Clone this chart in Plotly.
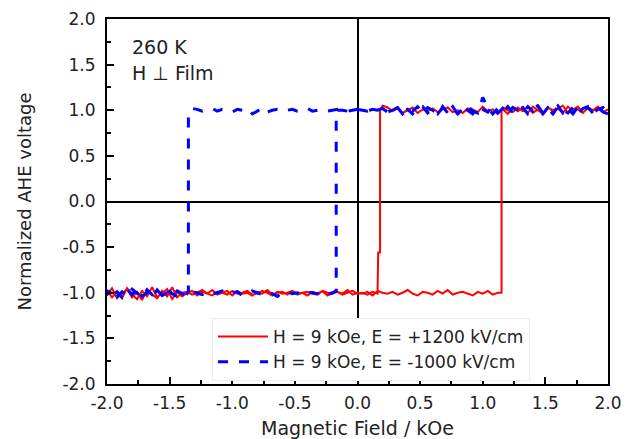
import numpy as np
import plotly.graph_objects as go

# ---------------- data ----------------
# magnetic field sweep grid (kOe), 101 points from -2.0 to 2.0
FIELD = np.round(np.arange(101) * 0.04 - 2.0, 2)

# E = +1200 kV/cm, normalized AHE voltage, listed in ascending-field order
red_up = [
    -0.97, -1.05, -0.99, -1.06, -0.95, -1.02, -1.07, -0.98, -1.04, -0.94, -1.05, -1.01, -0.96, -1.07, -0.99, -1.04,
    -1.00, -0.98, -1.03, -0.99, -1.01, -0.97, -1.02, -1.00, -0.98, -1.03,
    -0.98, -1.01, -1.00, -1.03, -0.99, -1.01, -0.97, -1.02, -1.00, -0.99,
    -1.02, -0.98, -1.01, -1.00, -1.03, -0.99, -1.01, -0.98, -1.03, -1.00,
    -0.99, -1.01, -0.97, -1.02, -1.00, -1.01, -0.99, -1.03, -0.98, -1.00,
    -1.01, -0.99, -1.02, -1.00, -0.97, -1.01, -1.03, -0.99, -1.00, -1.02,
    -0.98, -1.01, -0.97, -1.02, -1.00, -0.99, -1.01, -1.03, -0.99, -1.01,
    -0.98, -1.02, -1.00,
    1.01, 0.96, 1.03, 0.99, 1.03, 0.97, 1.04, 1.00, 0.96, 1.03, 0.99, 1.02, 1.05, 0.97, 1.01, 1.04,
    0.97, 1.03, 1.00, 1.04, 0.98, 1.01,
]
red_down = [
    -1.03, -0.95, -1.06, -1.01, -0.96, -1.05, -0.99, -1.08, -0.96, -1.02, -1.06, -0.98, -1.04, -0.94, -1.05, -1.00,
    -0.99, -1.02, -1.00, -0.97, -1.01, -1.03, -0.99, -1.00, -1.02, -0.98,
    -1.01, -1.00, -0.98, -1.02, -1.01, -0.98, -1.00, -1.03, -0.99, -1.01,
    -1.00, -0.98, -1.02, -1.00, -0.99, -1.01, -1.02, -0.98, -1.00, -1.01,
    -0.99, -1.02, -1.00, -0.98, -1.01, -1.00, -1.02, -0.99, -1.01,
    1.05, 1.03, 0.99, 1.02, 0.97, 1.00, 1.03, 0.97, 1.01, 0.99,
    1.02, 0.98, 1.01, 1.03, 0.98, 1.00, 0.97, 1.02, 1.01, 0.98,
    1.04, 0.99, 1.01, 0.96, 1.03, 1.00, 0.98, 1.03, 0.99, 1.04,
    0.97, 1.01, 0.96, 1.03, 1.00, 1.02, 0.97, 1.04, 0.99, 1.01,
    0.97, 1.03, 1.00, 1.02, 0.98, 1.01,
]
red_down_switch_x = [0.18, 0.18, 0.165, 0.165]
red_down_switch_y = [1.00, -0.56, -0.56, -1.00]
red_up_switch_x = [1.15, 1.15]
red_up_switch_y = [-1.00, 1.00]

# E = -1000 kV/cm
blue_down = [
    -0.97, -1.03, -0.99, -1.05, -0.96, -1.02, -0.95, -1.04, -1.00, -1.05, -0.97, -1.03, -0.96, -1.01, -1.04, -0.99, -1.01,
    1.02, 1.01, 0.99, 1.00, 1.02, 0.99, 1.01, 1.00, 0.98, 1.01,
    1.00, 1.02, 0.96, 0.99, 1.03, 0.98, 1.00, 1.01, 0.99, 1.00,
    1.01, 0.99, 1.00, 1.02, 0.99, 1.00, 1.01, 0.99, 1.00, 1.01,
    1.00, 0.99, 1.00, 1.01, 1.00, 0.99, 1.01, 1.00, 1.02, 0.98,
    1.00, 1.03, 0.98, 1.01, 0.96, 1.02, 1.04, 0.97, 1.01, 0.96,
    1.03, 0.98, 1.04, 0.96, 1.02, 1.00, 0.96, 1.03, 1.01, 0.98,
    1.05, 0.97, 1.02, 0.96, 1.03, 1.00, 0.97, 1.04, 0.99, 1.02,
    0.96, 1.03, 1.00, 1.05, 0.97, 1.02, 0.96, 1.04, 1.00, 1.03,
    0.97, 1.04, 0.98, 0.96,
]
blue_up = [
    -1.02, -0.96, -1.04, -0.99, -1.04, -0.96, -1.01, -1.05, -0.97, -1.02,
    -0.96, -1.03, -1.00, -1.04, -0.98, -1.01, -1.03, -0.99, -1.00, -1.02,
    -0.99, -1.01, -1.00, -0.98, -1.02, -1.00, -0.99, -1.03, -1.01, -0.98,
    -1.00, -1.02, -0.99, -1.01, -1.04, -1.00, -0.99, -1.01, -1.00, -1.02,
    -0.99, -1.00, -1.01, -0.99, -1.02, -1.00,
    1.00, 1.00, 0.99, 1.00, 1.01, 1.00, 0.99, 1.01, 1.00, 1.02,
    0.98, 1.01, 1.03, 0.96, 1.02, 0.99, 1.04, 0.97, 1.03, 1.00,
    0.96, 1.04, 0.97, 1.03, 0.96, 1.02, 1.05, 0.99, 0.97, 1.14,
    1.03, 0.96, 1.02, 0.98, 1.04, 0.97, 1.01, 1.03, 0.96, 1.02,
    1.05, 0.97, 1.01, 0.96, 1.04, 1.00, 0.97, 1.03, 0.96, 1.02,
    1.04, 0.97, 1.01, 1.03, 0.97,
]
blue_down_switch_x = [-1.35, -1.35]
blue_down_switch_y = [0.94, -0.98]
blue_up_switch_x = [-0.17, -0.17]
blue_up_switch_y = [-0.98, 0.99]

TICK_VALS = [-2.0, -1.5, -1.0, -0.5, 0.0, 0.5, 1.0, 1.5, 2.0]
TICK_TEXT = ["-2.0", "-1.5", "-1.0", "-0.5", "0.0", "0.5", "1.0", "1.5", "2.0"]

RED_NAME = "H = 9 kOe, E = +1200 kV/cm"
BLUE_NAME = "H = 9 kOe, E = -1000 kV/cm"


def loop_path(ys_down, sw_down_x, sw_down_y, ys_up, sw_up_x, sw_up_y):
    """Full field loop: sweep from +2 down to -2, then back up to +2."""
    thr_d = float(np.mean(sw_down_x))
    thr_u = float(np.mean(sw_up_x))
    xs, yv = [], []
    pts = list(zip(FIELD, ys_down))[::-1]
    for x, y in pts:
        if x > thr_d:
            xs.append(x); yv.append(y)
    xs += list(sw_down_x); yv += list(sw_down_y)
    for x, y in pts:
        if x < thr_d:
            xs.append(x); yv.append(y)
    pts = list(zip(FIELD, ys_up))
    for x, y in pts:
        if x < thr_u:
            xs.append(x); yv.append(y)
    xs += list(sw_up_x); yv += list(sw_up_y)
    for x, y in pts:
        if x > thr_u:
            xs.append(x); yv.append(y)
    return xs, yv


rx, ry = loop_path(red_down, red_down_switch_x, red_down_switch_y,
                   red_up, red_up_switch_x, red_up_switch_y)
bx, by = loop_path(blue_down, blue_down_switch_x, blue_down_switch_y,
                   blue_up, blue_up_switch_x, blue_up_switch_y)

FONT = "DejaVu Sans"
TXT = "#222222"

fig = go.Figure()
fig.add_trace(go.Scatter(x=rx, y=ry, mode="lines", name=RED_NAME,
                         line=dict(color="#ff0000", width=2)))
fig.add_trace(go.Scatter(x=bx, y=by, mode="lines", name=BLUE_NAME,
                         line=dict(color="#0000ff", width=3, dash="10px,11px")))

axis_common = dict(
    range=[-2, 2], tickvals=TICK_VALS, ticktext=TICK_TEXT,
    ticks="inside", ticklen=7, tickwidth=1.5, tickcolor="black",
    minor=dict(ticks="inside", ticklen=4, dtick=0.25, tickwidth=1.5, tickcolor="black", showgrid=False),
    showline=True, linecolor="black", linewidth=2, mirror=True,
    showgrid=False, zeroline=True, zerolinecolor="black", zerolinewidth=1.5,
    tickfont=dict(family=FONT, size=17, color=TXT),
)

fig.update_xaxes(**axis_common,
                 title=dict(text="Magnetic Field / kOe", font=dict(family=FONT, size=19, color=TXT),
                            standoff=13),
                 ticklabelstandoff=3)
fig.update_yaxes(**axis_common,
                 title=dict(text="Normalized AHE voltage", font=dict(family=FONT, size=18, color=TXT),
                            standoff=26),
                 ticklabelstandoff=6)

fig.add_annotation(text="260 K", xref="paper", yref="paper", x=(130 - 107) / 501, y=(384 - 47) / 365,
                   xanchor="left", yanchor="middle", showarrow=False,
                   font=dict(family=FONT, size=19, color=TXT))
fig.add_annotation(text="H \u22a5 Film", xref="paper", yref="paper", x=(130 - 107) / 501, y=(384 - 73) / 365,
                   xanchor="left", yanchor="middle", showarrow=False,
                   font=dict(family=FONT, size=19, color=TXT))

fig.update_layout(
    width=634, height=439,
    margin=dict(l=107, r=26, t=19, b=55, autoexpand=False),
    paper_bgcolor="white", plot_bgcolor="white",
    showlegend=True,
    legend=dict(x=(212 - 107) / 501, y=(384 - 318) / 365, xanchor="left", yanchor="top",
                bgcolor="white", bordercolor="#eeeeee", borderwidth=1,
                font=dict(family=FONT, size=17, color=TXT),
                itemwidth=50, tracegroupgap=0),
)

fig.write_html("out.html", config={"displayModeBar": False},
               post_script="document.body.style.margin='0';")
